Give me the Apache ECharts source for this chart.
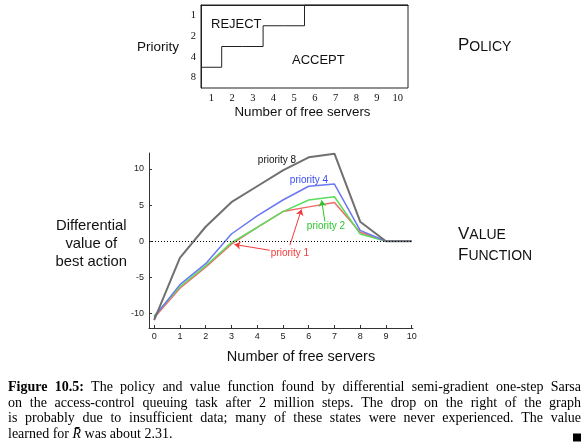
<!DOCTYPE html>
<html><head><meta charset="utf-8">
<script src="https://cdn.jsdelivr.net/npm/echarts@6/dist/echarts.min.js"></script>
<style>html,body{margin:0;padding:0;background:#fff}#c{width:587px;height:448px}</style>
</head><body><div id="c"></div>
<script>
// ---- Policy data ----
const freeServers = ['1','2','3','4','5','6','7','8','9','10'];
const priorities = ['1','2','4','8'];
// number of (highest) priorities rejected for each count of free servers 1..10
const policyRejectCount = [3,2,2,1,1,0,0,0,0,0];

// ---- Value function data ----
const valueX = [0,1,2,3,4,5,6,7,8,9,10];
const valuePriority8 = [-10.9,-2.3,2.0,5.4,7.6,9.8,11.6,12.1,2.7,0,0];
const valuePriority4 = [-10.5,-6.0,-3.1,1.0,3.5,5.7,7.6,7.9,1.5,0,0];
const valuePriority2 = [-10.3,-6.3,-3.4,-0.2,1.9,4.1,5.7,6.15,1.0,0,0];
const valuePriority1 = [-10.6,-6.5,-3.6,-0.4,1.9,4.1,4.75,5.35,1.25,0,0];
const valueTicksX = [0,1,2,3,4,5,6,7,8,9,10];
const valueTicksY = [-10,-5,0,5,10];

const captionLines = [
  'Figure 10.5: The policy and value function found by differential semi-gradient one-step Sarsa',
  'on the access-control queuing task after 2 million steps. The drop on the right of the graph',
  'is probably due to insufficient data; many of these states were never experienced. The value',
  'learned for R\u0304 was about 2.31.'
];

const SANS = '"Liberation Sans", Arial, Helvetica, sans-serif';
const SERIF = '"Liberation Serif", "Times New Roman", serif';

const stairs = [];
policyRejectCount.forEach((r, i) => { stairs.push([i, r]); stairs.push([i + 1, r]); });
const pairs = arr => valueX.map((x, i) => [x, arr[i]]);

function txt(text, x, y, size, color, align, valign, extra) {
  return Object.assign({
    type: 'text', x: x, y: y, silent: true,
    style: Object.assign({
      text: text, fontSize: size, fontFamily: SANS, fill: color || '#111',
      align: align || 'left', verticalAlign: valign || 'middle',
      textAlign: align || 'left', textVerticalAlign: valign || 'middle'
    }, extra || {})
  });
}

const graphics = [
  txt('Priority', 158, 47, 13.5, '#111', 'center'),
  txt('REJECT', 211, 24, 13, '#111', 'left'),
  txt('ACCEPT', 292, 60, 13, '#111', 'left'),
  txt('Number of free servers', 302.5, 112.5, 13.3, '#111', 'center'),
  txt('priority 8', 277, 160.5, 10, '#111', 'center'),
  txt('priority 4', 309, 180.5, 10, '#3a4df0', 'center'),
  txt('priority 2', 326, 226.5, 10, '#2ec52e', 'center'),
  txt('priority 1', 290, 253.5, 10, '#f03a3a', 'center'),
  txt('Number of free servers', 301, 356.5, 14.5, '#111', 'center'),
  txt('Differential\nvalue of\nbest action', 91.3, 244, 14.8, '#111', 'center', 'middle', {lineHeight: 17.8}),
  {type:'text', x:458, y:54, silent:true, style:{text:'{a|P}{b|OLICY}', verticalAlign:'bottom', textVerticalAlign:'bottom',
    rich:{a:{fontSize:17, fontFamily:SANS, fill:'#111', verticalAlign:'bottom'}, b:{fontSize:14, fontFamily:SANS, fill:'#111', verticalAlign:'bottom'}}}},
  {type:'text', x:458, y:242.5, silent:true, style:{text:'{a|V}{b|ALUE}', verticalAlign:'bottom', textVerticalAlign:'bottom',
    rich:{a:{fontSize:17, fontFamily:SANS, fill:'#111', verticalAlign:'bottom'}, b:{fontSize:14, fontFamily:SANS, fill:'#111', verticalAlign:'bottom'}}}},
  {type:'text', x:458, y:263.5, silent:true, style:{text:'{a|F}{b|UNCTION}', verticalAlign:'bottom', textVerticalAlign:'bottom',
    rich:{a:{fontSize:17, fontFamily:SANS, fill:'#111', verticalAlign:'bottom'}, b:{fontSize:14, fontFamily:SANS, fill:'#111', verticalAlign:'bottom'}}}},
  {type:'rect', shape:{x:573, y:433.5, width:8, height:8}, style:{fill:'#000'}, silent:true}
];

// caption, justified
(function(){
  const ctx = document.createElement('canvas').getContext('2d');
  const size = 14;
  const left = 8, right = 581, W = right - left;
  const baselines = [394.5, 410, 425.6, 441.2];
  captionLines.forEach((line, li) => {
    const words = line.split(' ');
    const fonts = words.map((w, wi) => {
      if (li === 0 && wi < 2) return 'bold ' + size + 'px ' + SERIF;
      if (w.indexOf('\u0304') >= 0) return 'italic ' + size + 'px ' + SERIF;
      return size + 'px ' + SERIF;
    });
    const widths = words.map((w, wi) => { ctx.font = fonts[wi]; return ctx.measureText(w).width; });
    ctx.font = size + 'px ' + SERIF;
    const space = ctx.measureText(' ').width;
    const sum = widths.reduce((a, b) => a + b, 0);
    const last = li === captionLines.length - 1;
    const gap = last ? space : (W - sum) / (words.length - 1);
    let x = left;
    words.forEach((w, wi) => {
      graphics.push({type:'text', x:x, y:baselines[li], silent:true,
        style:{text:w, font:fonts[wi], fill:'#000', align:'left', textAlign:'left', verticalAlign:'bottom', textVerticalAlign:'bottom'}});
      x += widths[wi] + gap;
    });
  });
})();

const chart = echarts.init(document.getElementById('c'), null, {renderer:'canvas'});
chart.setOption({
  animation: false,
  backgroundColor: '#fff',
  textStyle: {fontFamily: SANS},
  grid: [
    {left:201, top:5, width:207, height:83, show:true, borderColor:'#222', borderWidth:1, backgroundColor:'transparent'},
    {left:149, top:153, width:264, height:175}
  ],
  xAxis: [
    {type:'category', gridIndex:0, data:freeServers, boundaryGap:true,
     axisLine:{lineStyle:{color:'#222', width:1}},
     axisTick:{inside:true, length:3, lineStyle:{color:'#222'}},
     axisLabel:{fontFamily:SERIF, fontSize:10.5, color:'#111', margin:5},
     splitLine:{show:false}},
    {type:'value', gridIndex:0, min:0, max:10, show:false},
    {type:'value', gridIndex:1, min:-0.2, max:10.05,
     axisLine:{onZero:false, lineStyle:{color:'#333', width:1}},
     axisTick:{inside:true, length:3, customValues:valueTicksX, lineStyle:{color:'#333'}},
     axisLabel:{fontSize:9, color:'#222', margin:4, customValues:valueTicksX},
     splitLine:{show:false}}
  ],
  yAxis: [
    {type:'category', gridIndex:0, data:priorities, inverse:true,
     axisLine:{lineStyle:{color:'#222', width:1}},
     axisTick:{inside:false, length:3, lineStyle:{color:'#222'}},
     axisLabel:{fontFamily:SERIF, fontSize:10.5, color:'#111', margin:5},
     splitLine:{show:false}},
    {type:'value', gridIndex:0, min:0, max:4, inverse:true, show:false},
    {type:'value', gridIndex:1, min:-12, max:12.2,
     axisLine:{show:true, onZero:false, lineStyle:{color:'#333', width:1}},
     axisTick:{show:true, inside:true, length:3, customValues:valueTicksY, lineStyle:{color:'#333'}},
     axisLabel:{fontSize:9, color:'#222', margin:5, customValues:valueTicksY},
     splitLine:{show:false}}
  ],
  series: [
    {type:'line', name:'policy', xAxisIndex:1, yAxisIndex:1, data:stairs, symbol:'none', silent:true,
     lineStyle:{color:'#222', width:1}},
    {type:'line', name:'priority 1', xAxisIndex:2, yAxisIndex:2, data:pairs(valuePriority1), symbol:'none', silent:true,
     lineStyle:{color:'#f06a6a', width:1.5},
     markLine:{silent:true, symbol:['none','arrow'], symbolSize:6, label:{show:false},
       lineStyle:{color:'#f03a3a', width:1, type:'solid'},
       data:[[{coord:[4.49,-1.25]},{coord:[3.12,-0.45]}],[{coord:[5.27,-0.55]},{coord:[5.72,4.4]}]]}},
    {type:'line', name:'priority 2', xAxisIndex:2, yAxisIndex:2, data:pairs(valuePriority2), symbol:'none', silent:true,
     lineStyle:{color:'#5cdc5c', width:1.5},
     markLine:{silent:true, symbol:['none','arrow'], symbolSize:6, label:{show:false},
       lineStyle:{color:'#2ec52e', width:1, type:'solid'},
       data:[[{coord:[6.63,2.72]},{coord:[6.5,5.65]}]]}},
    {type:'line', name:'priority 4', xAxisIndex:2, yAxisIndex:2, data:pairs(valuePriority4), symbol:'none', silent:true,
     lineStyle:{color:'#6a78f2', width:1.5}},
    {type:'line', name:'priority 8', xAxisIndex:2, yAxisIndex:2, data:pairs(valuePriority8), symbol:'none', silent:true,
     lineStyle:{color:'#707070', width:2},
     markLine:{silent:true, symbol:['none','none'], label:{show:false},
       lineStyle:{color:'#000', width:1, type:[1,2]},
       data:[{yAxis:0}]}}
  ],
  graphic: graphics
});
</script>
</body></html>
